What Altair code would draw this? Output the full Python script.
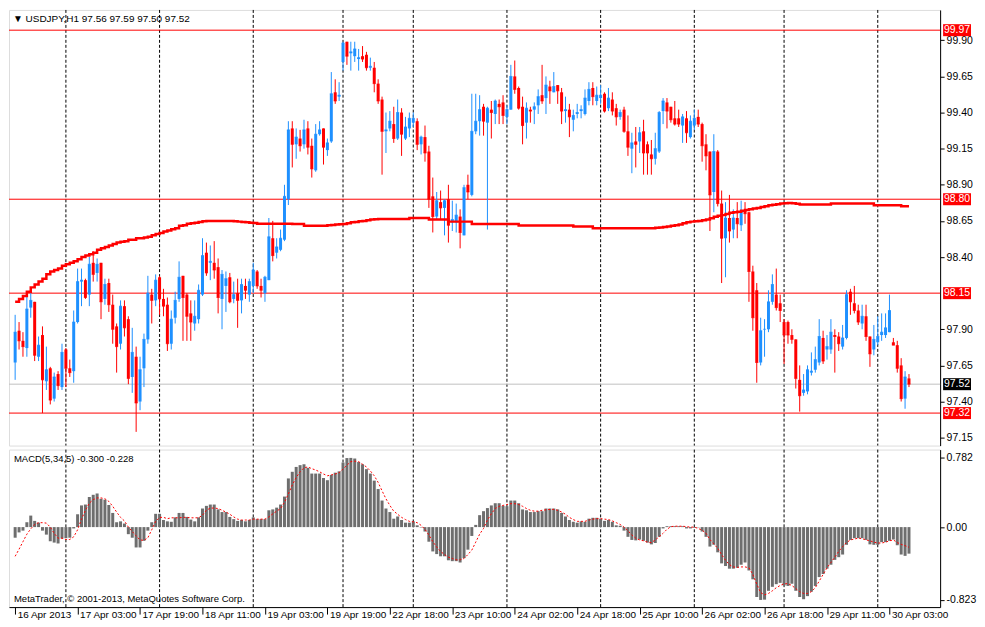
import altair as alt
import pandas as pd

# ---------------- data ----------------
OPEN = [97.67, 97.89, 97.82, 97.77, 98.05, 98.09, 97.71, 97.86, 97.54, 97.63,
        97.42, 97.59, 97.50, 97.76, 97.63, 97.61, 97.95, 98.23, 98.24, 98.14,
        98.36, 98.29, 98.36, 98.11, 98.22, 98.07, 97.92, 97.80, 98.06, 97.97,
        97.57, 97.71, 97.40, 97.63, 97.83, 98.14, 98.10, 98.26, 98.11, 98.07,
        97.80, 97.98, 98.11, 98.27, 98.14, 98.01, 97.94, 97.97, 98.14, 98.43,
        98.36, 98.36, 98.33, 98.11, 98.20, 98.26, 98.11, 98.15, 98.10, 98.20,
        98.14, 98.20, 98.30, 98.20, 98.15, 98.24, 98.53, 98.43, 98.45, 98.52,
        98.80, 99.29, 99.18, 99.22, 99.18, 99.29, 99.17, 99.00, 99.25, 99.29,
        99.14, 99.20, 99.54, 99.51, 99.75, 99.89, 99.81, 99.79, 99.77, 99.79,
        99.80, 99.71, 99.71, 99.60, 99.49, 99.27, 99.29, 99.32, 99.22, 99.40,
        99.22, 99.29, 99.33, 99.34, 99.18, 99.23, 99.13, 98.82, 98.68, 98.78,
        98.74, 98.80, 98.64, 98.64, 98.68, 98.55, 98.90, 98.83, 99.27, 99.34,
        99.44, 99.33, 99.42, 99.39, 99.46, 99.47, 99.37, 99.42, 99.65, 99.57,
        99.44, 99.33, 99.42, 99.42, 99.45, 99.52, 99.50, 99.58, 99.54, 99.59,
        99.54, 99.41, 99.42, 99.35, 99.39, 99.41, 99.39, 99.48, 99.57, 99.48,
        99.50, 99.53, 99.43, 99.49, 99.43, 99.37, 99.42, 99.27, 99.15, 99.20,
        99.20, 99.27, 99.18, 99.11, 99.08, 99.13, 99.41, 99.47, 99.44, 99.36,
        99.36, 99.31, 99.36, 99.23, 99.31, 99.37, 99.32, 99.18, 99.13, 98.85,
        99.13, 98.77, 98.53, 98.67, 98.59, 98.67, 98.62, 98.72, 98.71, 98.30,
        98.17, 97.67, 97.90, 97.90, 98.09, 98.14, 98.08, 97.95, 97.95, 97.86,
        97.83, 97.55, 97.46, 97.47, 97.60, 97.62, 97.67, 97.84, 97.76, 97.76,
        97.86, 97.85, 97.78, 97.84, 98.16, 98.08, 98.03, 97.94, 97.99, 97.85,
        97.76, 97.81, 97.86, 97.86, 97.88, 97.81, 97.79, 97.65, 97.42, 97.56]

HIGH = [98.00, 97.95, 97.88, 98.14, 98.15, 98.09, 97.85, 97.92, 97.78, 97.64,
        97.60, 97.61, 97.80, 97.77, 97.69, 98.03, 98.32, 98.32, 98.25, 98.40,
        98.44, 98.39, 98.36, 98.25, 98.25, 98.14, 97.94, 98.10, 98.10, 97.99,
        97.91, 97.78, 97.71, 97.87, 98.27, 98.18, 98.28, 98.27, 98.18, 98.12,
        98.03, 98.16, 98.37, 98.27, 98.15, 98.10, 98.10, 98.21, 98.53, 98.50,
        98.48, 98.51, 98.39, 98.31, 98.30, 98.29, 98.23, 98.25, 98.25, 98.25,
        98.25, 98.36, 98.31, 98.25, 98.27, 98.67, 98.65, 98.53, 98.59, 98.90,
        99.34, 99.34, 99.29, 99.28, 99.35, 99.34, 99.22, 99.32, 99.34, 99.29,
        99.22, 99.68, 99.63, 99.61, 99.89, 99.89, 99.89, 99.89, 99.84, 99.86,
        99.82, 99.78, 99.75, 99.63, 99.51, 99.40, 99.41, 99.44, 99.49, 99.43,
        99.37, 99.40, 99.40, 99.36, 99.24, 99.31, 99.17, 98.95, 98.85, 98.86,
        98.80, 98.90, 98.79, 98.77, 98.73, 98.90, 98.97, 99.53, 99.53, 99.52,
        99.46, 99.44, 99.48, 99.49, 99.49, 99.52, 99.45, 99.73, 99.76, 99.58,
        99.51, 99.47, 99.44, 99.47, 99.56, 99.73, 99.65, 99.62, 99.68, 99.59,
        99.57, 99.51, 99.46, 99.42, 99.46, 99.45, 99.56, 99.61, 99.61, 99.58,
        99.59, 99.54, 99.57, 99.54, 99.46, 99.42, 99.44, 99.38, 99.26, 99.30,
        99.30, 99.35, 99.20, 99.21, 99.26, 99.41, 99.50, 99.50, 99.44, 99.48,
        99.42, 99.39, 99.41, 99.38, 99.42, 99.42, 99.33, 99.25, 99.13, 99.25,
        99.14, 98.86, 98.78, 98.83, 98.73, 98.78, 98.79, 98.78, 98.71, 98.34,
        98.22, 97.98, 97.97, 98.17, 98.28, 98.32, 98.14, 97.97, 97.96, 97.90,
        97.83, 97.65, 97.59, 97.65, 97.74, 97.78, 97.97, 97.89, 97.86, 97.97,
        97.90, 97.88, 97.93, 98.17, 98.18, 98.20, 98.07, 98.07, 98.07, 97.85,
        97.93, 97.99, 98.01, 98.01, 98.14, 97.84, 97.82, 97.70, 97.61, 97.59]

LOW = [97.55, 97.76, 97.71, 97.71, 97.98, 97.68, 97.68, 97.32, 97.48, 97.38,
       97.40, 97.48, 97.48, 97.50, 97.57, 97.53, 97.94, 98.06, 98.11, 98.06,
       98.23, 98.23, 97.97, 98.07, 98.02, 97.80, 97.60, 97.76, 97.85, 97.52,
       97.46, 97.19, 97.34, 97.50, 97.80, 97.94, 98.06, 98.00, 97.99, 97.75,
       97.76, 97.94, 98.09, 97.82, 97.82, 97.82, 97.89, 97.94, 98.13, 98.27,
       98.24, 98.25, 98.01, 97.90, 98.02, 98.08, 98.08, 97.91, 98.01, 98.11,
       98.09, 98.15, 98.18, 98.12, 98.09, 98.24, 98.37, 98.39, 98.44, 98.51,
       98.76, 99.02, 99.08, 99.13, 99.15, 99.11, 98.95, 98.99, 99.24, 99.04,
       99.10, 99.19, 99.46, 99.48, 99.69, 99.73, 99.69, 99.75, 99.69, 99.75,
       99.69, 99.69, 99.54, 99.46, 98.97, 99.12, 99.27, 99.19, 99.21, 99.10,
       99.21, 99.23, 99.30, 99.14, 99.11, 99.06, 98.74, 98.57, 98.66, 98.66,
       98.55, 98.50, 98.58, 98.57, 98.46, 98.55, 98.80, 98.82, 99.25, 99.24,
       99.24, 98.59, 99.22, 99.32, 99.32, 99.32, 99.32, 99.42, 99.53, 99.42,
       99.18, 99.22, 99.33, 99.32, 99.39, 99.46, 99.39, 99.46, 99.54, 99.46,
       99.32, 99.33, 99.23, 99.27, 99.36, 99.36, 99.38, 99.45, 99.45, 99.45,
       99.46, 99.40, 99.41, 99.38, 99.31, 99.35, 99.26, 99.10, 98.98, 99.02,
       99.12, 98.97, 98.97, 98.97, 99.04, 99.12, 99.32, 99.29, 99.33, 99.31,
       99.30, 99.19, 99.19, 99.22, 99.28, 99.30, 99.06, 99.00, 98.58, 98.71,
       98.75, 98.22, 98.26, 98.50, 98.53, 98.53, 98.58, 98.63, 98.09, 97.89,
       97.53, 97.65, 97.71, 97.88, 98.07, 98.03, 97.95, 97.66, 97.80, 97.80,
       97.49, 97.33, 97.44, 97.45, 97.58, 97.60, 97.65, 97.66, 97.69, 97.73,
       97.60, 97.75, 97.76, 97.83, 98.00, 98.01, 97.93, 97.90, 97.82, 97.64,
       97.72, 97.79, 97.82, 97.84, 97.88, 97.79, 97.60, 97.40, 97.35, 97.50]

CLOSE = [97.88, 97.82, 97.78, 98.04, 98.10, 97.72, 97.79, 97.55, 97.62, 97.41,
         97.57, 97.51, 97.74, 97.63, 97.60, 97.95, 98.23, 98.24, 98.12, 98.35,
         98.28, 98.35, 98.09, 98.21, 98.07, 97.90, 97.78, 98.06, 97.91, 97.56,
         97.74, 97.39, 97.62, 97.83, 98.15, 98.10, 98.24, 98.11, 98.06, 97.80,
         97.97, 98.10, 98.26, 98.12, 97.99, 97.95, 97.99, 98.17, 98.41, 98.29,
         98.37, 98.31, 98.12, 98.28, 98.25, 98.09, 98.14, 98.10, 98.21, 98.17,
         98.23, 98.31, 98.20, 98.17, 98.26, 98.54, 98.41, 98.47, 98.53, 98.82,
         99.28, 99.18, 99.23, 99.17, 99.28, 99.16, 99.01, 99.25, 99.28, 99.16,
         99.19, 99.53, 99.48, 99.52, 99.88, 99.79, 99.82, 99.84, 99.78, 99.77,
         99.71, 99.72, 99.60, 99.48, 99.27, 99.28, 99.34, 99.22, 99.40, 99.25,
         99.30, 99.36, 99.36, 99.18, 99.23, 99.12, 98.80, 98.68, 98.79, 98.74,
         98.79, 98.62, 98.66, 98.69, 98.57, 98.88, 98.85, 99.27, 99.34, 99.42,
         99.34, 99.43, 99.40, 99.48, 99.44, 99.38, 99.42, 99.65, 99.56, 99.43,
         99.31, 99.43, 99.41, 99.44, 99.51, 99.48, 99.59, 99.55, 99.58, 99.55,
         99.41, 99.42, 99.37, 99.38, 99.40, 99.42, 99.50, 99.56, 99.51, 99.52,
         99.52, 99.41, 99.50, 99.41, 99.37, 99.40, 99.27, 99.16, 99.19, 99.18,
         99.26, 99.12, 99.12, 99.08, 99.15, 99.40, 99.48, 99.41, 99.35, 99.32,
         99.32, 99.37, 99.26, 99.34, 99.36, 99.32, 99.17, 99.10, 98.83, 99.13,
         98.77, 98.53, 98.67, 98.58, 98.67, 98.63, 98.71, 98.70, 98.30, 97.98,
         97.67, 97.89, 97.90, 98.09, 98.21, 98.05, 98.03, 97.86, 97.86, 97.83,
         97.56, 97.44, 97.48, 97.62, 97.61, 97.69, 97.85, 97.68, 97.78, 97.88,
         97.85, 97.80, 97.84, 98.14, 98.09, 98.03, 97.95, 97.99, 97.85, 97.73,
         97.83, 97.85, 97.88, 97.91, 98.03, 97.79, 97.63, 97.42, 97.57, 97.52]

MA = [98.09, 98.11, 98.13, 98.16, 98.19, 98.21, 98.23, 98.25, 98.28, 98.30,
      98.31, 98.32, 98.34, 98.35, 98.36, 98.37, 98.385, 98.40, 98.41, 98.42,
      98.43, 98.45, 98.46, 98.47, 98.48, 98.49, 98.50, 98.505, 98.51, 98.52,
      98.52, 98.53, 98.53, 98.535, 98.54, 98.55, 98.56, 98.566, 98.577, 98.584,
      98.593, 98.60, 98.616, 98.62, 98.63, 98.634, 98.638, 98.643, 98.647, 98.65,
      98.65, 98.65, 98.65, 98.65, 98.65, 98.65, 98.648, 98.645, 98.643, 98.64,
      98.638, 98.636, 98.63, 98.63, 98.63, 98.63, 98.63, 98.63, 98.63, 98.63,
      98.63, 98.628, 98.628, 98.628, 98.616, 98.616, 98.616, 98.616, 98.616, 98.616,
      98.62, 98.622, 98.625, 98.627, 98.629, 98.634, 98.64, 98.643, 98.647, 98.65,
      98.655, 98.66, 98.662, 98.663, 98.663, 98.663, 98.663, 98.663, 98.663, 98.663,
      98.663, 98.67, 98.67, 98.67, 98.67, 98.67, 98.66, 98.66, 98.66, 98.66,
      98.66, 98.645, 98.645, 98.645, 98.645, 98.645, 98.645, 98.629, 98.629, 98.629,
      98.629, 98.629, 98.629, 98.629, 98.629, 98.629, 98.629, 98.629, 98.629, 98.618,
      98.618, 98.618, 98.618, 98.618, 98.618, 98.618, 98.618, 98.618, 98.618, 98.618,
      98.618, 98.618, 98.618, 98.611, 98.611, 98.611, 98.611, 98.611, 98.60, 98.60,
      98.60, 98.60, 98.60, 98.60, 98.60, 98.60, 98.60, 98.60, 98.60, 98.60,
      98.60, 98.60, 98.60, 98.60, 98.603, 98.605, 98.607, 98.612, 98.616, 98.62,
      98.625, 98.634, 98.64, 98.645, 98.648, 98.65, 98.655, 98.66, 98.668, 98.679,
      98.686, 98.69, 98.697, 98.706, 98.71, 98.713, 98.72, 98.725, 98.731, 98.736,
      98.74, 98.747, 98.752, 98.758, 98.762, 98.766, 98.77, 98.772, 98.774, 98.772,
      98.768, 98.763, 98.763, 98.763, 98.763, 98.763, 98.763, 98.763, 98.763, 98.77,
      98.77, 98.77, 98.77, 98.77, 98.77, 98.77, 98.77, 98.77, 98.77, 98.77,
      98.758, 98.758, 98.758, 98.758, 98.758, 98.758, 98.758, 98.752, 98.752, 98.752]

MACD_MAIN = [-0.12, -0.06, -0.04, 0.055, 0.13, 0.07, 0.05, -0.04, -0.085, -0.16,
             -0.175, -0.185, -0.13, -0.125, -0.12, -0.015, 0.145, 0.245, 0.255, 0.34,
             0.365, 0.38, 0.32, 0.31, 0.25, 0.16, 0.055, 0.065, 0.04, -0.08,
             -0.12, -0.23, -0.23, -0.155, -0.04, 0.055, 0.15, 0.15, 0.08, 0.065,
             0.06, 0.11, 0.16, 0.16, 0.115, 0.085, 0.065, 0.11, 0.21, 0.24,
             0.255, 0.255, 0.2, 0.17, 0.17, 0.115, 0.09, 0.07, 0.08, 0.065,
             0.08, 0.11, 0.09, 0.09, 0.09, 0.19, 0.2, 0.22, 0.255, 0.345,
             0.55, 0.625, 0.68, 0.70, 0.71, 0.67, 0.605, 0.605, 0.605, 0.555,
             0.53, 0.59, 0.615, 0.63, 0.73, 0.78, 0.782, 0.775, 0.735, 0.71,
             0.655, 0.605, 0.525, 0.43, 0.30, 0.21, 0.17, 0.095, 0.12, 0.08,
             0.05, 0.05, 0.065, 0.02, -0.005, -0.05, -0.165, -0.275, -0.305, -0.33,
             -0.33, -0.375, -0.385, -0.385, -0.40, -0.35, -0.255, -0.10, 0.025, 0.135,
             0.18, 0.215, 0.245, 0.27, 0.27, 0.24, 0.235, 0.30, 0.30, 0.27,
             0.20, 0.19, 0.17, 0.17, 0.18, 0.18, 0.21, 0.21, 0.21, 0.20,
             0.16, 0.12, 0.08, 0.06, 0.05, 0.065, 0.06, 0.095, 0.105, 0.105,
             0.095, 0.07, 0.08, 0.06, 0.02, 0.015, -0.04, -0.11, -0.145, -0.15,
             -0.14, -0.155, -0.175, -0.195, -0.18, -0.11, -0.015, 0.01, 0.01, 0.01,
             0.01, 0.01, -0.015, -0.015, -0.007, -0.004, -0.05, -0.11, -0.22, -0.20,
             -0.285, -0.41, -0.44, -0.47, -0.47, -0.46, -0.425, -0.40, -0.49, -0.59,
             -0.79, -0.823, -0.82, -0.72, -0.675, -0.645, -0.63, -0.66, -0.665, -0.64,
             -0.72, -0.79, -0.815, -0.78, -0.73, -0.665, -0.565, -0.53, -0.47, -0.425,
             -0.37, -0.34, -0.31, -0.20, -0.145, -0.125, -0.125, -0.125, -0.145, -0.195,
             -0.20, -0.20, -0.17, -0.17, -0.155, -0.14, -0.205, -0.31, -0.325, -0.30]

MACD_SIGNAL = [-0.33, -0.25, -0.165, -0.08, -0.02, 0.03, 0.05, 0.05, 0.045, 0.0,
               -0.07, -0.125, -0.125, -0.14, -0.14, -0.11, -0.03, 0.09, 0.19, 0.27,
               0.31, 0.33, 0.33, 0.32, 0.29, 0.235, 0.17, 0.11, 0.07, 0.0,
               -0.05, -0.10, -0.145, -0.15, -0.12, -0.03, 0.065, 0.11, 0.11, 0.095,
               0.105, 0.105, 0.105, 0.11, 0.11, 0.105, 0.105, 0.105, 0.135, 0.19,
               0.215, 0.215, 0.21, 0.19, 0.17, 0.145, 0.115, 0.09, 0.08, 0.08,
               0.08, 0.09, 0.09, 0.09, 0.09, 0.115, 0.15, 0.18, 0.21, 0.28,
               0.375, 0.475, 0.56, 0.625, 0.67, 0.68, 0.66, 0.645, 0.625, 0.60,
               0.58, 0.59, 0.60, 0.615, 0.655, 0.70, 0.74, 0.745, 0.74, 0.71,
               0.68, 0.635, 0.58, 0.505, 0.41, 0.32, 0.245, 0.18, 0.145, 0.11,
               0.085, 0.065, 0.06, 0.05, 0.02, -0.025, -0.09, -0.165, -0.225, -0.275,
               -0.31, -0.34, -0.355, -0.37, -0.37, -0.355, -0.31, -0.26, -0.17, -0.08,
               -0.015, 0.08, 0.15, 0.21, 0.235, 0.245, 0.255, 0.265, 0.265, 0.255,
               0.235, 0.21, 0.19, 0.18, 0.18, 0.19, 0.195, 0.2, 0.2, 0.19,
               0.17, 0.145, 0.11, 0.085, 0.065, 0.065, 0.065, 0.08, 0.09, 0.095,
               0.095, 0.09, 0.085, 0.07, 0.05, 0.03, 0.0, -0.04, -0.09, -0.125,
               -0.145, -0.155, -0.17, -0.175, -0.145, -0.11, -0.07, -0.025, 0.005, 0.01,
               0.01, 0.01, 0.005, 0.0, 0.0, -0.015, -0.035, -0.07, -0.14, -0.19,
               -0.24, -0.31, -0.375, -0.425, -0.45, -0.455, -0.45, -0.45, -0.46, -0.535,
               -0.645, -0.74, -0.765, -0.75, -0.72, -0.685, -0.66, -0.64, -0.64, -0.66,
               -0.695, -0.73, -0.75, -0.75, -0.73, -0.685, -0.61, -0.535, -0.46, -0.40,
               -0.34, -0.275, -0.22, -0.175, -0.145, -0.135, -0.125, -0.13, -0.145, -0.155,
               -0.17, -0.18, -0.18, -0.17, -0.155, -0.145, -0.175, -0.195, -0.21, -0.228]

TIME_TICKS = [0, 16, 32, 48, 64, 80, 96, 112, 128, 144, 160, 176, 192, 208, 224]
TIME_LABELS = ["16 Apr 2013", "17 Apr 03:00", "17 Apr 19:00", "18 Apr 11:00",
               "19 Apr 03:00", "19 Apr 19:00", "22 Apr 18:00", "23 Apr 10:00",
               "24 Apr 02:00", "24 Apr 18:00", "25 Apr 10:00", "26 Apr 02:00",
               "26 Apr 18:00", "29 Apr 11:00", "30 Apr 03:00"]
DAY_SEPARATORS = [13, 37, 61, 84, 102, 126, 150, 174, 197, 221]
LEVELS = [99.97, 98.80, 98.15, 97.32]
LEVEL_TEXT = ["99.97", "98.80", "98.15", "97.32"]
BID = [97.52]
BID_TEXT = ["97.52"]
PRICE_TICKS = [99.90, 99.65, 99.40, 99.15, 98.90, 98.65, 98.40, 97.90, 97.65, 97.40, 97.15]
MACD_TICKS = [0.782, 0.0, -0.823]
TITLE = "\u25bc USDJPY,H1  97.56 97.59 97.50 97.52"
MACD_TITLE = "MACD(5,34,5) -0.300 -0.228"
COPYRIGHT = "MetaTrader, \u00a9 2001-2013, MetaQuotes Software Corp."

# ---------------- layout / style ----------------
W = 934
H1 = 437
H2 = 158
FONT = "Liberation Sans"
BLUE = "#1E90FF"
RED = "#FF0000"

n = len(CLOSE)
candles = pd.DataFrame({
    "bar": list(range(n)), "open": OPEN, "high": HIGH, "low": LOW, "close": CLOSE,
    "ma": MA, "macd": MACD_MAIN, "signal": MACD_SIGNAL,
})
candles["dir"] = ["up" if c >= o else "down" for o, c in zip(OPEN, CLOSE)]

xscale = alt.Scale(domain=[-0.3, 235.7], nice=False, zero=False)
yscale = alt.Scale(domain=[97.095, 100.11], nice=False, zero=False)
mscale = alt.Scale(domain=[-0.904, 0.876], nice=False, zero=False)
color = alt.Color("dir:N", scale=alt.Scale(domain=["up", "down"], range=[BLUE, RED]), legend=None)

price_axis = alt.Axis(orient="right", values=PRICE_TICKS, format=".2f", title=None, grid=False,
                      tickSize=4, tickColor="black", domainColor="black", labelPadding=2,
                      labelFont=FONT, labelFontSize=10.5, labelColor="black")
macd_axis = alt.Axis(orient="right", values=MACD_TICKS, title=None, grid=False,
                     tickSize=4, tickColor="black", domainColor="black", labelPadding=2,
                     labelFont=FONT, labelFontSize=10.5, labelColor="black",
                     labelExpr="datum.value > 0.5 ? '0.782' : (datum.value < -0.5 ? '-0.823' : '0.00')")
label_array = "[" + ",".join("'" + s + "'" for s in TIME_LABELS) + "]"
time_axis = alt.Axis(orient="bottom", values=TIME_TICKS, title=None, grid=False,
                     tickSize=7, tickColor="black", domainColor="black",
                     labelAlign="left", labelBaseline="top", labelPadding=-5, labelOffset=2,
                     labelFont=FONT, labelFontSize=10, labelColor="black",
                     labelExpr=label_array + "[round(datum.value / 16)]")

X = lambda f="bar": alt.X(f"{f}:Q", scale=xscale, axis=None)
Y = lambda f: alt.Y(f"{f}:Q", scale=yscale, axis=price_axis)

sep_df = pd.DataFrame({"bar": DAY_SEPARATORS})
lvl_df = pd.DataFrame({"price": LEVELS, "txt": LEVEL_TEXT})
bid_df = pd.DataFrame({"price": BID, "txt": BID_TEXT})

box_shape = "M-1,-0.43L1,-0.43L1,0.43L-1,0.43Z"

seps = alt.Chart(sep_df).mark_rule(color="black", strokeDash=[3, 2], strokeWidth=1).encode(x=X())
levels = alt.Chart(lvl_df).mark_rule(color=RED, strokeWidth=1).encode(y=Y("price"))
bidline = alt.Chart(bid_df).mark_rule(color="#C0C0C0", strokeWidth=1).encode(y=Y("price"))
wicks = alt.Chart(candles).mark_rule(strokeWidth=1).encode(x=X(), y=Y("low"), y2="high", color=color)
bodies = alt.Chart(candles).mark_bar(size=3).encode(x=X(), y=Y("open"), y2="close", color=color)
doji = alt.Chart(candles).mark_tick(orient="horizontal", size=3, thickness=1).encode(
    x=X(), y=Y("close"), color=color)
ma_line = alt.Chart(candles).mark_line(color=RED, strokeWidth=2.5, interpolate="step-after").encode(
    x=X(), y=Y("ma"))
lvl_box = alt.Chart(lvl_df).mark_point(shape=box_shape, filled=True, opacity=1, color=RED, size=784,
                                        strokeWidth=0).encode(x=alt.value(W + 17), y=Y("price"))
lvl_txt = alt.Chart(lvl_df).mark_text(color="white", font=FONT, fontSize=10.5, align="center",
                                       baseline="middle").encode(x=alt.value(W + 17), y=Y("price"), text="txt:N")
bid_box = alt.Chart(bid_df).mark_point(shape=box_shape, filled=True, opacity=1, color="black", size=784,
                                        strokeWidth=0).encode(x=alt.value(W + 17), y=Y("price"))
bid_txt = alt.Chart(bid_df).mark_text(color="white", font=FONT, fontSize=10.5, align="center",
                                       baseline="middle").encode(x=alt.value(W + 17), y=Y("price"), text="txt:N")
title = alt.Chart(pd.DataFrame({"t": [TITLE]})).mark_text(
    font=FONT, fontSize=10, align="left", baseline="middle", color="black").encode(
    x=alt.value(4), y=alt.value(9), text="t:N")

main = alt.layer(seps, levels, bidline, wicks, bodies, doji, ma_line,
                 lvl_box, lvl_txt, bid_box, bid_txt, title).properties(width=W, height=H1)

MX = lambda: alt.X("bar:Q", scale=xscale, axis=time_axis)
MY = lambda f: alt.Y(f"{f}:Q", scale=mscale, axis=macd_axis)

mseps = alt.Chart(sep_df).mark_rule(color="black", strokeDash=[3, 2], strokeWidth=1).encode(x=MX())
hist = alt.Chart(candles).mark_bar(size=3, color="#6E6E6E").encode(x=MX(), y=MY("macd"), y2=alt.datum(0))
sig = alt.Chart(candles).mark_line(color=RED, strokeWidth=1, strokeDash=[2, 2]).encode(x=MX(), y=MY("signal"))
mtitle = alt.Chart(pd.DataFrame({"t": [MACD_TITLE]})).mark_text(
    font=FONT, fontSize=9.5, align="left", baseline="middle", color="black").encode(
    x=alt.value(5), y=alt.value(9), text="t:N")
copy = alt.Chart(pd.DataFrame({"t": [COPYRIGHT]})).mark_text(
    font=FONT, fontSize=9.5, align="left", baseline="middle", color="black").encode(
    x=alt.value(5), y=alt.value(H2 - 8), text="t:N")

macd = alt.layer(mseps, hist, sig, mtitle, copy).properties(width=W, height=H2)

chart = alt.vconcat(main, macd, spacing=2).properties(padding=0).configure_view(
    stroke="black", strokeWidth=1).configure(background="white")

chart.save("out.html", embed_options={"renderer": "svg", "actions": False})
